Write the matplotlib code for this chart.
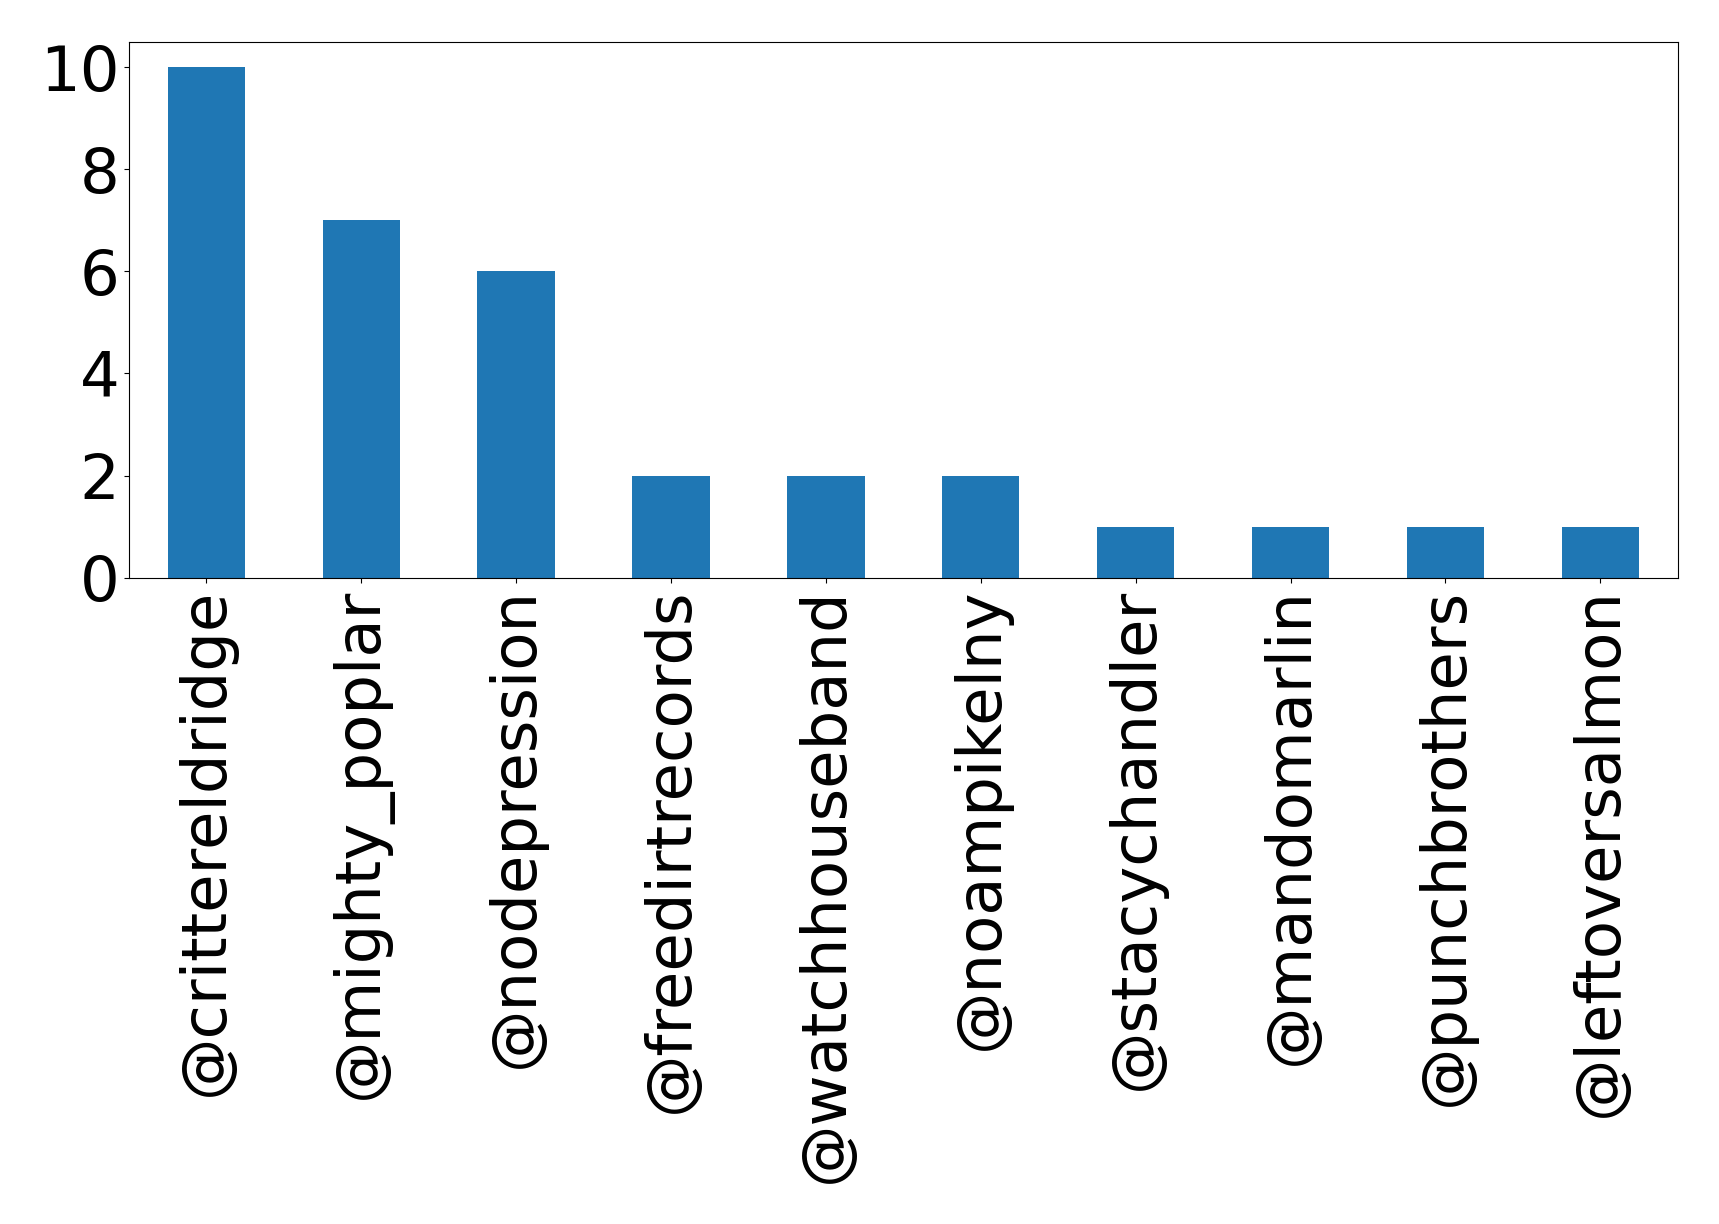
import matplotlib
matplotlib.use("agg")
from matplotlib import pyplot as plt

handles = ["@crittereldridge", "@mighty_poplar", "@nodepression", "@freedirtrecords",
           "@watchhouseband", "@noampikelny", "@stacychandler", "@mandomarlin",
           "@punchbrothers", "@leftoversalmon"]
counts = [10, 7, 6, 2, 2, 2, 1, 1, 1, 1]
y_ticks = [0, 2, 4, 6, 8, 10]


def plot_mentions():
    fig = plt.figure(figsize=(17.19, 12.24), dpi=100)
    ax = fig.add_axes([0.075, 0.528, 0.901, 0.438])
    x = list(range(len(handles)))
    ax.bar(x, counts, width=0.5, color="#1f77b4")
    ax.set_xlim(-0.5, len(handles) - 0.5)
    ax.set_xticks(x)
    ax.set_xticklabels(handles, rotation=90, fontsize=45)
    ax.set_yticks(y_ticks)
    ax.tick_params(axis="y", labelsize=45)
    fig.savefig("out.png", format="png")


if __name__ == "__main__":
    plot_mentions()
